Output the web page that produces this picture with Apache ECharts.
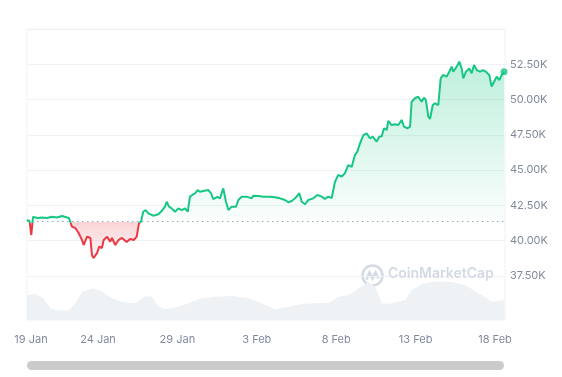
<!DOCTYPE html>
<html>
<head>
<meta charset="utf-8">
<script src="https://cdn.jsdelivr.net/npm/echarts@6/dist/echarts.min.js"></script>
<style>
  html, body { margin: 0; padding: 0; background: #fff; }
  #chart { width: 562px; height: 377px; }
</style>
</head>
<body>
<div id="chart"></div>
<script>
// days counted from 19 Jan 00:00, price in USD
var days = [0.53, 0.69, 0.80, 0.91, 1.22, 1.47, 1.79, 2.10, 2.42, 2.73, 2.95, 3.05, 3.17, 3.26, 3.36, 3.57, 3.78, 3.99, 4.10, 4.31,
  4.52, 4.62, 4.72, 4.94, 5.08, 5.25, 5.36, 5.57, 5.77, 5.88, 6.09, 6.30, 6.51, 6.81, 7.02, 7.27, 7.44, 7.58, 7.71, 7.85,
  8.00, 8.17, 8.48, 8.80, 9.01, 9.22, 9.33, 9.47, 9.64, 9.85, 10.06, 10.27, 10.48, 10.65, 10.79, 10.94, 11.11, 11.28, 11.42, 11.63,
  11.95, 12.12, 12.26, 12.37, 12.51, 12.68, 12.89, 13.06, 13.21, 13.42, 13.69, 13.84, 14.05, 14.36, 14.68, 14.78, 15.09, 15.41, 15.83, 16.15,
  16.46, 16.78, 16.98, 17.20, 17.41, 17.68, 17.83, 18.04, 18.24, 18.56, 18.81, 19.09, 19.29, 19.50, 19.72, 19.92, 20.13, 20.35, 20.55, 20.76,
  20.98, 21.18, 21.33, 21.50, 21.71, 21.92, 22.13, 22.30, 22.55, 22.71, 22.87, 23.01, 23.18, 23.28, 23.49, 23.70, 23.91, 24.12, 24.27, 24.48,
  24.65, 24.75, 24.96, 25.17, 25.38, 25.53, 25.65, 25.80, 25.91, 26.08, 26.22, 26.43, 26.58, 26.74, 26.96, 27.12, 27.27, 27.37, 27.59, 27.75,
  27.90, 28.00, 28.17, 28.38, 28.53, 28.68, 28.85, 29.06, 29.23, 29.43, 29.64, 29.79, 30.00, 30.11, 30.27, 30.42, 30.57];
var prices = [41450, 41380, 40390, 41670, 41600, 41630, 41600, 41690, 41630, 41740, 41670, 41740, 41600, 41310, 40980, 40890, 40530, 40040, 39680, 40270,
  40180, 38970, 38760, 39110, 39560, 39470, 40040, 40270, 39920, 40180, 39680, 40040, 40180, 39890, 40110, 40040, 40270, 41220, 41340, 42040,
  42160, 41930, 41760, 41860, 42090, 42400, 42750, 42400, 42280, 42040, 42280, 42160, 42280, 42040, 43110, 43230, 43350, 43580, 43460, 43510,
  43580, 43350, 42940, 42990, 43090, 42990, 43700, 42750, 42160, 42400, 42400, 42870, 43110, 43110, 42990, 43180, 43160, 43110, 43110, 43060,
  42990, 42870, 42710, 42800, 42990, 43350, 42750, 42570, 42870, 42990, 43230, 43110, 42940, 43110, 43010, 44150, 44650, 44530, 44770, 45350,
  45230, 46060, 46300, 46890, 47480, 47600, 47250, 47360, 47010, 47360, 47400, 47960, 47840, 48480, 48190, 48240, 48190, 48550, 48070, 47960,
  48070, 49840, 50090, 50200, 49840, 50130, 49960, 48780, 48620, 49610, 49730, 49610, 51500, 51740, 51620, 51970, 52330, 51970, 52330, 52680,
  52210, 51500, 51970, 52210, 51860, 52450, 52090, 51970, 52090, 51970, 51740, 50910, 51380, 51620, 51380, 51740, 51970];
var basePrice = 41330;

// volume, billions of USD
var volDays = [0.53, 1.05, 1.58, 2.00, 2.31, 3.15, 3.57, 3.99, 4.41, 4.73, 5.25, 5.88, 6.51, 7.35, 7.98, 8.40, 8.82, 9.24, 10.08, 10.92,
  11.55, 12.39, 13.44, 14.49, 15.33, 16.16, 17.01, 17.85, 18.68, 19.53, 20.16, 20.79, 21.42, 22.05, 22.46, 22.88, 23.31, 24.35, 24.77, 25.40,
  26.24, 27.29, 28.13, 28.97, 29.81, 30.55, 30.63];
var volumes = [25, 26, 21.7, 11.7, 10, 9.3, 16.7, 28.3, 30, 31.7, 28.3, 21.7, 18.3, 16.7, 24, 23.3, 13.3, 10.7, 13.3, 18.3,
  21.7, 23.3, 24, 21.7, 16.7, 10.7, 13.3, 16, 16.7, 17.3, 23.3, 25, 31.7, 38, 33.3, 16.7, 16, 20, 30, 36,
  38.5, 38, 35, 26.7, 18.3, 20, 20];

var xTickDays = [0.78, 5, 10, 15, 20, 25, 30];
var xTickLabels = ['19 Jan', '24 Jan', '29 Jan', '3 Feb', '8 Feb', '13 Feb', '18 Feb'];
var yTicks = [37500, 40000, 42500, 45000, 47500, 50000, 52500];

var green = '#16c784', red = '#ea3943';
var maxP = Math.max.apply(null, prices), minP = Math.min.apply(null, prices);
// where the base price sits inside the line's own bounding box (top = max, bottom = min)
var off = (maxP - basePrice) / (maxP - minP);

var priceData = days.map(function (d, i) { return [d, prices[i]]; });
var volData = volDays.map(function (d, i) { return [d, volumes[i]]; });
var last = priceData[priceData.length - 1];

var lineColor = new echarts.graphic.LinearGradient(0, 0, 0, 1, [
  { offset: 0, color: green }, { offset: off, color: green },
  { offset: off, color: red }, { offset: 1, color: red }
]);
var areaColor = new echarts.graphic.LinearGradient(0, 0, 0, 1, [
  { offset: 0, color: 'rgba(22,199,132,0.28)' },
  { offset: off, color: 'rgba(22,199,132,0.02)' },
  { offset: off, color: 'rgba(234,57,67,0.22)' },
  { offset: 1, color: 'rgba(234,57,67,0.04)' }
]);

var chart = echarts.init(document.getElementById('chart'));
chart.setOption({
  animation: false,
  backgroundColor: '#fff',
  textStyle: { fontFamily: 'Inter, sans-serif' },
  grid: [
    { left: 27, right: 57, top: 29, bottom: 66 },
    { left: 27, right: 57, top: 29, bottom: 57, show: true, borderColor: '#eff2f5', borderWidth: 1 }
  ],
  xAxis: [
    { type: 'value', gridIndex: 0, min: 0.53, max: 30.63, show: false },
    {
      type: 'value', gridIndex: 1, min: 0.53, max: 30.63,
      axisLine: { show: false }, axisTick: { show: false }, splitLine: { show: false },
      axisLabel: {
        customValues: xTickDays, color: '#808a9d', fontSize: 11, margin: 14,
        formatter: function (v) {
          var i = xTickDays.indexOf(v);
          return i >= 0 ? xTickLabels[i] : '';
        }
      }
    }
  ],
  yAxis: [
    {
      type: 'value', gridIndex: 0, position: 'right', min: 35000, max: 55000, interval: 2500,
      axisLine: { show: false }, axisTick: { show: false },
      splitLine: { lineStyle: { color: '#eff2f5' } },
      axisLabel: {
        customValues: yTicks, color: '#808a9d', fontSize: 11, margin: 5,
        formatter: function (v) { return (v / 1000).toFixed(2) + 'K'; }
      }
    },
    { type: 'value', gridIndex: 1, min: 0, max: 291, show: false }
  ],
  series: [
    {
      type: 'line', xAxisIndex: 0, yAxisIndex: 0, data: priceData,
      showSymbol: false, symbol: 'none', z: 5,
      lineStyle: { width: 2, color: lineColor },
      areaStyle: { origin: basePrice, opacity: 1, color: areaColor },
      markLine: {
        silent: true, symbol: 'none', label: { show: false },
        lineStyle: { color: '#a1a7bb', type: [1.5, 3.5], width: 1 },
        data: [{ yAxis: basePrice }]
      }
    },
    {
      type: 'scatter', xAxisIndex: 0, yAxisIndex: 0, data: [last],
      symbolSize: 7, itemStyle: { color: green }, z: 6
    },
    {
      type: 'line', xAxisIndex: 1, yAxisIndex: 1, data: volData,
      showSymbol: false, symbol: 'none', z: 1,
      lineStyle: { width: 0 },
      areaStyle: { color: '#eff2f5', opacity: 1 }
    }
  ],
  graphic: [
    {
      type: 'group', left: 360, top: 263, z: 10,
      children: [
        { type: 'circle', shape: { cx: 11, cy: 11, r: 10 }, style: { fill: 'none', stroke: '#d3d9e5', lineWidth: 2.5 } },
        { type: 'polyline', shape: { points: [[5, 15], [8, 8], [11, 14], [14, 8], [17, 14]] }, style: { fill: 'none', stroke: '#d3d9e5', lineWidth: 2.5 } }
      ]
    },
    {
      type: 'text', left: 388, top: 267, z: 10,
      style: { text: 'CoinMarketCap', fill: '#d3d9e5', font: '600 14px Inter, sans-serif' }
    },
    {
      type: 'rect', left: 27, top: 361, z: 10,
      shape: { width: 477, height: 9, r: 4.5 },
      style: { fill: '#cbcbcb' }
    }
  ]
});
</script>
</body>
</html>
